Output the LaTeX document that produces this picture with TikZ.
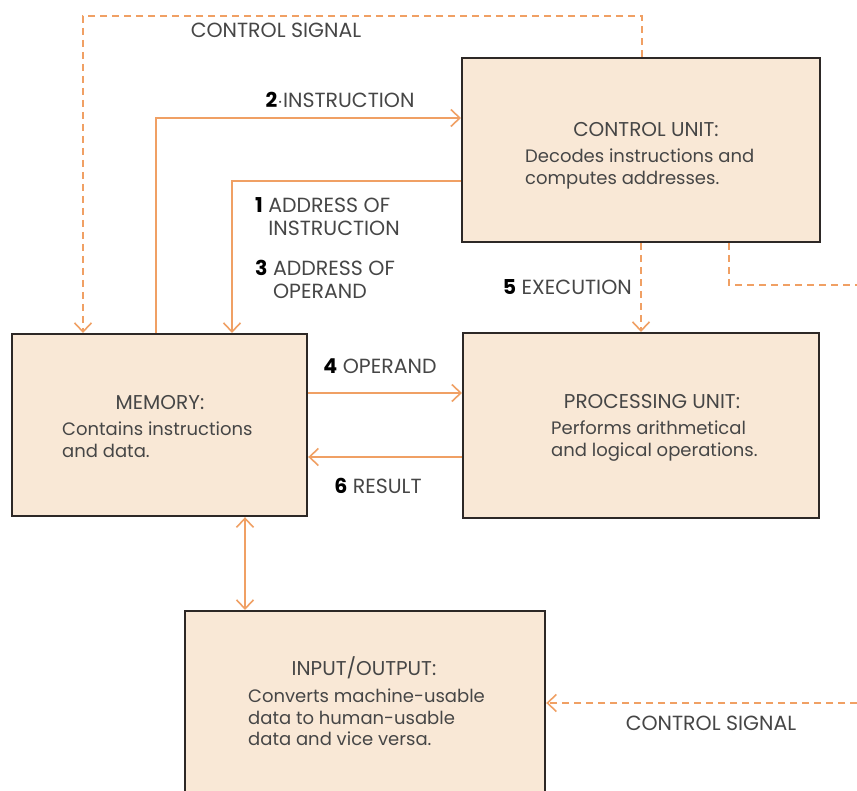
\documentclass[tikz,border=0pt]{standalone}
\usepackage{fontspec}
\setmainfont{Poppins}
\usetikzlibrary{arrows.meta}

\definecolor{boxfill}{RGB}{249,232,214}
\definecolor{boxline}{RGB}{45,40,38}
\definecolor{wire}{RGB}{240,160,100}
\definecolor{ink}{RGB}{70,70,70}

\tikzset{
  unit/.style={draw=boxline, line width=2.2pt, fill=boxfill, anchor=north west, inner sep=0pt},
  head/.style={text=ink, font=\fontsize{20}{22}\selectfont, inner sep=0pt},
  body/.style={text=ink, font=\fontsize{18}{21.5}\selectfont, align=left, anchor=north west, inner sep=0pt},
  lbl/.style={text=ink, font=\fontsize{20.5}{23}\selectfont, inner sep=0pt},
  tip/.style={-{Straight Barb[length=9pt,width=17pt,line width=1.6pt]}},
  flow/.style={draw=wire, line width=1.8pt, tip},
  ctrl/.style={draw=wire, line width=1.8pt, dash pattern=on 7pt off 5pt, tip},
}
\newcommand{\num}[1]{\textcolor{black}{\textbf{#1}}}

\begin{document}
\begin{tikzpicture}[x=1pt,y=-1pt]
  \useasboundingbox (0,0) rectangle (857,791);
  \fill[white] (0,0) rectangle (857,791);
  \clip (0,0) rectangle (857,791);

  % the four units
  \node[unit, minimum width=358pt, minimum height=184pt] (cu)  at (461,57)  {};
  \node[unit, minimum width=295pt, minimum height=182pt] (mem) at (11,333)  {};
  \node[unit, minimum width=356pt, minimum height=185pt] (pu)  at (462,332) {};
  \node[unit, minimum width=360pt, minimum height=200pt] (io)  at (184,610) {};

  % unit texts
  \node[head] (cuh) at (646,130) {CONTROL UNIT:};
  \node[body] (cub) at (525,149) {Decodes instructions and\\computes addresses.};
  \node[head] (memh) at (160,403) {MEMORY:};
  \node[body] (memb) at (62,422) {Contains instructions\\and data.};
  \node[head] (puh) at (652,402) {PROCESSING UNIT:};
  \node[body] (pub) at (551,421) {Performs arithmetical\\and logical operations.};
  \node[head] (ioh) at (364,668) {INPUT/OUTPUT:};
  \node[body] (iob) at (248,689) {Converts machine-usable\\data to human-usable\\data and vice versa.};

  % free ends of the control lines at the right edge
  \coordinate (eR1) at (857,285);
  \coordinate (eR2) at (857,703);

  % control signal from the control unit to memory
  \draw[ctrl] (cu.north -| 642,0) |- (83,16) -- (mem.north -| 83,0);
  \node[lbl] (cs1) at (276,30) {CONTROL SIGNAL};

  % instruction fetch
  \draw[flow] (mem.north -| 156,0) |- (cu.west |- 0,118);
  \node[lbl] (l2) at (340,100) {\num{2}$\cdot$INSTRUCTION};

  % addresses
  \draw[flow] (cu.west |- 0,181) -| (mem.north -| 232,0);
  \node[lbl, align=left, anchor=north west] (l1) at (255,197) {\num{1} ADDRESS OF\\\phantom{\num{1}} INSTRUCTION};
  \node[lbl, align=left, anchor=north west] (l3) at (255,260) {\num{3} ADDRESS OF\\\phantom{\num{3}} OPERAND};

  % execution
  \draw[ctrl] (cu.south -| 641,0) -- (pu.north -| 641,0);
  \node[lbl, anchor=east] (l5) at (632,287) {\num{5} EXECUTION};

  % control line leaving to the right
  \draw[ctrl, -] (cu.south -| 729,0) |- (eR1);

  % operand and result
  \draw[flow] (mem.east |- 0,393) -- (pu.west |- 0,393);
  \node[lbl] (l4) at (380,366) {\num{4} OPERAND};
  \draw[flow] (pu.west |- 0,457) -- (mem.east |- 0,457);
  \node[lbl] (l6) at (378,486) {\num{6} RESULT};

  % memory <-> input/output
  \draw[flow, {Straight Barb[length=9pt,width=17pt,line width=1.6pt]}-{Straight Barb[length=9pt,width=17pt,line width=1.6pt]}]
    (mem.south -| 245,0) -- (io.north -| 245,0);

  % control signal into input/output
  \draw[ctrl] (eR2) -- (io.east |- eR2);
  \node[lbl] (cs2) at (711,723) {CONTROL SIGNAL};
\end{tikzpicture}
\end{document}
